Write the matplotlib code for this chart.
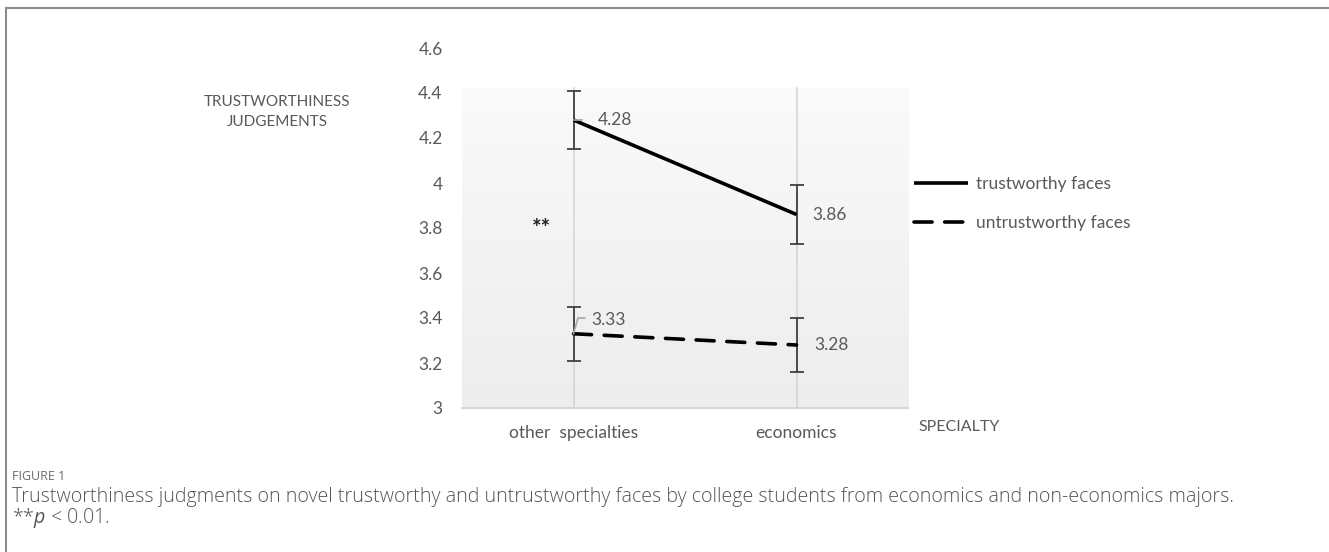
import numpy as np
import matplotlib
matplotlib.use('Agg')
import matplotlib.pyplot as plt
from matplotlib.lines import Line2D
from matplotlib.colors import LinearSegmentedColormap

plt.rcParams['font.family'] = ['Lato', 'DejaVu Sans']
plt.rcParams['mathtext.fontset'] = 'custom'
plt.rcParams['mathtext.it'] = 'Open Sans:italic'

categories = ['other  specialties', 'economics']
trustworthy = [4.28, 3.86]
untrustworthy = [3.33, 3.28]
trustworthy_err = [0.13, 0.13]
untrustworthy_err = [0.12, 0.12]
series_names = ['trustworthy faces', 'untrustworthy faces']
y_ticks = [3, 3.2, 3.4, 3.6, 3.8, 4, 4.2, 4.4, 4.6]
y_tick_labels = ['3', '3.2', '3.4', '3.6', '3.8', '4', '4.2', '4.4', '4.6']

W, H = 1329, 552
fig = plt.figure(figsize=(W / 100, H / 100), dpi=100)
ax = fig.add_axes([462 / W, 1 - 408 / H, 446 / W, 360 / H])

x = np.arange(len(categories))
ax.set_xlim(-0.5, 1.5)
ax.set_ylim(3, 4.6)

# plot-area fill: near white at top, light grey at bottom
grad = np.linspace(0, 1, 256).reshape(-1, 1)
cmap = LinearSegmentedColormap.from_list('bg', ['#ededed', '#fafafa'])
ax.imshow(grad, extent=(-0.5, 1.5, 3, 4.42), aspect='auto', cmap=cmap,
          origin='lower', zorder=0)

for xi in x:
    ax.plot([xi, xi], [3, 4.42], color='#d6d6d6', lw=1.2, zorder=1)
ax.plot([-0.5, 1.5], [3, 3], color='#d6d6d6', lw=1.5, zorder=1, clip_on=False)

ax.errorbar(x, trustworthy, yerr=trustworthy_err, fmt='none', ecolor='#404040',
            elinewidth=1.3, capsize=5, capthick=1.3, zorder=3)
ax.errorbar(x, untrustworthy, yerr=untrustworthy_err, fmt='none', ecolor='#404040',
            elinewidth=1.3, capsize=5, capthick=1.3, zorder=3)

l1, = ax.plot(x, trustworthy, color='black', lw=2.6, solid_capstyle='butt', zorder=4,
              label=series_names[0])
l2, = ax.plot(x, untrustworthy, color='black', lw=2.6, dashes=(5, 3.5),
              dash_capstyle='round', zorder=4, label=series_names[1])

lab_kw = dict(color='#595959', fontsize=12.5, va='center', ha='left', zorder=5)
# labels with leader lines at the first category
ax.text(x[0] + 0.11, trustworthy[0], f'{trustworthy[0]:.2f}', **lab_kw)
ax.plot([x[0], x[0] + 0.04], [trustworthy[0], trustworthy[0]], color='#a6a6a6', lw=1.2, zorder=5)
ax.text(x[0] + 0.08, untrustworthy[0] + 0.06, f'{untrustworthy[0]:.2f}', **lab_kw)
ax.plot([x[0], x[0] + 0.02, x[0] + 0.05], [untrustworthy[0], untrustworthy[0] + 0.07,
        untrustworthy[0] + 0.07], color='#a6a6a6', lw=1.2, zorder=5)
ax.text(x[1] + 0.07, trustworthy[1], f'{trustworthy[1]:.2f}', **lab_kw)
ax.text(x[1] + 0.08, untrustworthy[1], f'{untrustworthy[1]:.2f}', **lab_kw)

ax.text(-0.145, 3.8, '**', fontsize=16, fontweight='bold', color='#222222',
        ha='center', va='center')

ax.set_yticks(y_ticks)
ax.set_yticklabels(y_tick_labels)
ax.set_xticks(x)
ax.set_xticklabels(categories)
ax.tick_params(axis='both', length=0, labelsize=12.5, labelcolor='#595959')
ax.tick_params(axis='y', pad=14)
ax.tick_params(axis='x', pad=12)
for s in ax.spines.values():
    s.set_visible(False)

fig.text(277 / W, 1 - 112 / H, 'TRUSTWORTHINESS\nJUDGEMENTS', ha='center', va='center',
         fontsize=11, color='#595959', linespacing=1.55)
fig.text(918 / W, 1 - 427 / H, 'SPECIALTY', ha='left', va='center',
         fontsize=11.5, color='#595959')

ax.legend(handles=[l1, l2], loc='center left', bbox_to_anchor=(914 / W, 1 - 203.5 / H),
          bbox_transform=fig.transFigure, frameon=False, fontsize=12.5,
          handlelength=3.1, handletextpad=0.45, labelspacing=1.3,
          borderpad=0, borderaxespad=0, labelcolor='#595959')

# caption
cap_font = ['Open Sans', 'DejaVu Sans']
fig.text(12 / W, 1 - 476 / H, 'FIGURE 1', ha='left', va='center', fontsize=9,
         color='#6b6b6b', family=cap_font)
fig.text(12 / W, 1 - 497 / H,
         'Trustworthiness judgments on novel trustworthy and untrustworthy faces by college '
         'students from economics and non-economics majors.',
         ha='left', va='center', fontsize=14.1, color='#555555', family=cap_font,
         fontweight='light')
fig.text(12 / W, 1 - 518 / H, r'**$p$ < 0.01.', ha='left', va='center', fontsize=14.1,
         color='#555555', family=cap_font, fontweight='light')

# outer frame (top and left edges)
fig.add_artist(Line2D([6 / W, 1], [1 - 7.5 / H, 1 - 7.5 / H], transform=fig.transFigure,
                      color='#8c8c8c', lw=1.5))
fig.add_artist(Line2D([6 / W, 6 / W], [0, 1 - 7.5 / H], transform=fig.transFigure,
                      color='#8c8c8c', lw=1.5))

fig.savefig('out.png', dpi=100)
